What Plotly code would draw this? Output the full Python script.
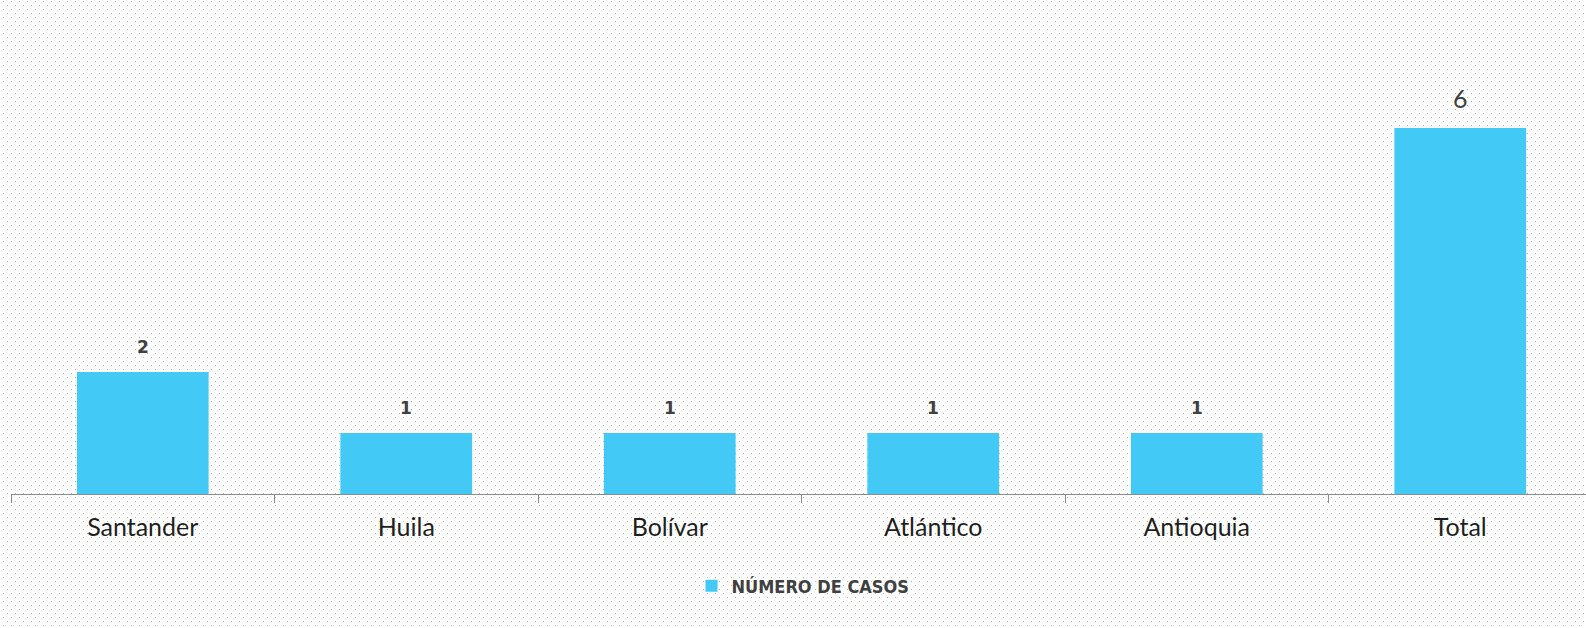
import base64
import struct
import zlib

import plotly.graph_objects as go

# ---- data ----
categories = ["Santander", "Huila", "Bolívar", "Atlántico", "Antioquia", "Total"]
casos = [2, 1, 1, 1, 1, 6]
series_name = "NÚMERO DE CASOS"

W, H = 1592, 628
ML, MR, MT, MB = 11, 0, 67, 134


def dotted_png(w, h):
    rows = []
    for y in range(h):
        row = bytearray([255] * w)
        if y % 4 == 1:
            off = 3 if (y // 4) % 2 == 0 else 7
            for x in range(off, w, 8):
                row[x] = 180
        rows.append(b"\x00" + bytes(row))
    raw = b"".join(rows)

    def chunk(t, d):
        c = struct.pack(">I", len(d)) + t + d
        return c + struct.pack(">I", zlib.crc32(t + d) & 0xFFFFFFFF)

    png = b"\x89PNG\r\n\x1a\n"
    png += chunk(b"IHDR", struct.pack(">IIBBBBB", w, h, 8, 0, 0, 0, 0))
    png += chunk(b"IDAT", zlib.compress(raw, 9))
    png += chunk(b"IEND", b"")
    return "data:image/png;base64," + base64.b64encode(png).decode()


pw = W - ML - MR
ph = H - MT - MB

fig = go.Figure()
fig.add_trace(go.Bar(
    x=categories,
    y=casos,
    name=series_name,
    marker=dict(color="#43C9F5", line=dict(width=0)),
    showlegend=True,
))

for cat, v in zip(categories, casos):
    big = cat == "Total"
    fig.add_annotation(
        x=cat, y=v, xref="x", yref="y",
        text=str(v),
        showarrow=False,
        yanchor="middle",
        yshift=30 if big else 25,
        font=dict(
            family="Lato, Open Sans, sans-serif" if big else "DejaVu Sans, Verdana, sans-serif",
            size=25 if big else 17,
            color="#404040",
            weight="normal" if big else "bold",
        ),
    )

fig.add_layout_image(
    source=dotted_png(W, H),
    xref="paper", yref="paper",
    x=-ML / pw, y=1 + MT / ph,
    sizex=W / pw, sizey=H / ph,
    xanchor="left", yanchor="top",
    sizing="stretch",
    layer="below",
)

fig.update_layout(
    width=W, height=H,
    margin=dict(l=ML, r=MR, t=MT, b=MB),
    paper_bgcolor="white",
    plot_bgcolor="rgba(0,0,0,0)",
    bargap=0.5,
    xaxis=dict(
        showline=True, linecolor="#8c8c8c", linewidth=1,
        ticks="outside", tickson="boundaries", ticklen=8, tickcolor="#8c8c8c",
        tickfont=dict(family="Lato, Open Sans, sans-serif", size=25, color="#1f1f1f"),
        ticklabelstandoff=11,
        showgrid=False, zeroline=False,
    ),
    yaxis=dict(visible=False, range=[0, 7], showgrid=False, zeroline=False),
    legend=dict(
        orientation="h",
        x=(803 - ML) / pw, xanchor="center",
        yref="container", y=1 - 586 / H, yanchor="middle",
        font=dict(family="Liberation Sans Narrow, DejaVu Sans Condensed, Roboto Condensed, Roboto, sans-serif",
                  size=18, color="#404040", weight="bold"),
        bgcolor="rgba(0,0,0,0)",
        itemsizing="constant",
        itemwidth=30,
    ),
)

fig.write_html(
    "out.html",
    config={"displayModeBar": False},
    post_script="document.body.style.margin='0px'; document.body.style.overflow='hidden';",
)
